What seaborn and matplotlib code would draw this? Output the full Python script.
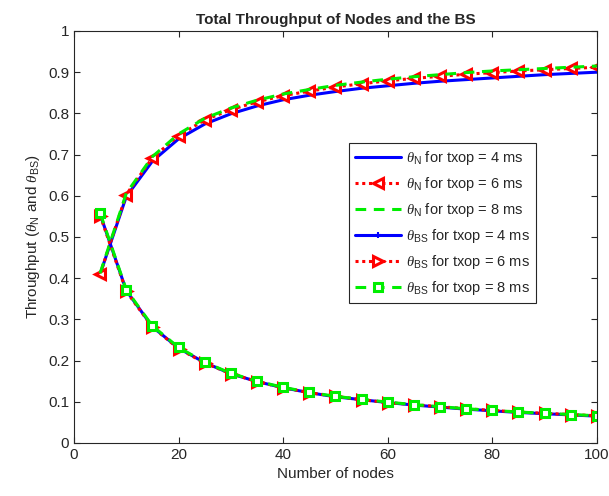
import numpy as np
import pandas as pd
import matplotlib
matplotlib.use("Agg")
import matplotlib.pyplot as plt
import seaborn as sns

# Data
nodes = [5, 10, 15, 20, 25, 30, 35, 40, 45, 50, 55, 60, 65, 70, 75, 80, 85, 90, 95, 100]

thN_4 = [0.410, 0.598, 0.684, 0.738, 0.774, 0.799, 0.818, 0.833, 0.844, 0.853, 0.861, 0.867,
         0.873, 0.878, 0.882, 0.886, 0.890, 0.894, 0.897, 0.900]
thN_6 = [0.410, 0.603, 0.692, 0.746, 0.784, 0.809, 0.828, 0.843, 0.854, 0.864, 0.872, 0.879,
         0.885, 0.890, 0.895, 0.899, 0.903, 0.906, 0.909, 0.912]
thN_8 = [0.412, 0.606, 0.695, 0.750, 0.788, 0.813, 0.832, 0.847, 0.858, 0.868, 0.876, 0.883,
         0.889, 0.894, 0.899, 0.903, 0.906, 0.909, 0.912, 0.915]

thBS_4 = [0.555, 0.370, 0.282, 0.230, 0.195, 0.168, 0.149, 0.134, 0.122, 0.112, 0.105, 0.098,
          0.092, 0.087, 0.082, 0.078, 0.074, 0.071, 0.068, 0.065]
thBS_6 = [0.552, 0.368, 0.281, 0.229, 0.194, 0.168, 0.149, 0.134, 0.122, 0.113, 0.105, 0.098,
          0.093, 0.088, 0.083, 0.079, 0.075, 0.072, 0.069, 0.066]
thBS_8 = [0.558, 0.372, 0.284, 0.232, 0.196, 0.169, 0.150, 0.135, 0.123, 0.113, 0.106, 0.099,
          0.093, 0.088, 0.083, 0.079, 0.075, 0.072, 0.069, 0.066]

labels = [
    r"$\theta_{\mathrm{N}}$ for txop = 4 ms",
    r"$\theta_{\mathrm{N}}$ for txop = 6 ms",
    r"$\theta_{\mathrm{N}}$ for txop = 8 ms",
    r"$\theta_{\mathrm{BS}}$ for txop = 4 ms",
    r"$\theta_{\mathrm{BS}}$ for txop = 6 ms",
    r"$\theta_{\mathrm{BS}}$ for txop = 8 ms",
]

sns.set_style("ticks")
plt.rcParams.update({
    "font.family": ["Liberation Sans", "DejaVu Sans"],
    "mathtext.fontset": "custom",
    "mathtext.rm": "Liberation Sans",
    "mathtext.it": "Liberation Serif:italic",
    "mathtext.bf": "Liberation Sans:bold",
    "axes.edgecolor": "#262626",
    "axes.linewidth": 0.8,
})

BLUE, RED, GREEN = "#0000ff", "#ff0000", "#00ee00"
series = [
    (thN_4, dict(color=BLUE, linestyle="-", marker=None)),
    (thN_6, dict(color=RED, linestyle=(0, (1, 1.2)), marker="<", markersize=7,
                 markerfacecolor="white", markeredgecolor=RED, markeredgewidth=2.2)),
    (thN_8, dict(color=GREEN, linestyle=(0, (3.5, 2.5)), marker=None)),
    (thBS_4, dict(color=BLUE, linestyle="-", marker="+", markersize=5,
                  markeredgecolor=BLUE, markeredgewidth=1.5)),
    (thBS_6, dict(color=RED, linestyle=(0, (1, 1.2)), marker=">", markersize=7,
                  markerfacecolor="white", markeredgecolor=RED, markeredgewidth=2.2)),
    (thBS_8, dict(color=GREEN, linestyle=(0, (3.5, 2.5)), marker="s", markersize=5.5,
                  markerfacecolor="white", markeredgecolor=GREEN, markeredgewidth=2.2)),
]

fig = plt.figure(figsize=(6.09, 4.96), dpi=100)
ax = fig.add_axes([0.1215, 0.107, 0.8585, 0.8305])

for (vals, style), lab in zip(series, labels):
    df = pd.DataFrame({"nodes": nodes, "thr": vals})
    sns.lineplot(data=df, x="nodes", y="thr", ax=ax, label=lab, linewidth=2.2, **style)

ax.set_xlim(0, 100)
ax.set_ylim(0, 1)
ax.set_xticks([0, 20, 40, 60, 80, 100])
ax.set_yticks(np.round(np.arange(0, 1.01, 0.1), 1))
ax.set_yticklabels(["0", "0.1", "0.2", "0.3", "0.4", "0.5", "0.6", "0.7", "0.8", "0.9", "1"])
ax.tick_params(direction="in", length=4, width=0.8, top=True, right=True,
               labelsize=11, colors="#262626")
for s in ax.spines.values():
    s.set_visible(True)
    s.set_color("#262626")

ax.set_xlabel("Number of nodes", fontsize=11, color="#262626")
ax.set_ylabel(r"Throughput ($\theta_{\mathrm{N}}$ and $\theta_{\mathrm{BS}}$)", fontsize=11,
              color="#262626")
ax.set_title("Total Throughput of Nodes and the BS", fontsize=11, fontweight="bold", pad=5)

leg = ax.legend(loc="upper left", bbox_to_anchor=(0.512, 0.745), fontsize=10.5,
                handlelength=3.2, frameon=True, fancybox=False, framealpha=1,
                edgecolor="#262626", borderpad=0.4, labelspacing=0.55, handletextpad=0.3)
leg.get_frame().set_linewidth(0.8)

fig.savefig("out.png", dpi=100)
